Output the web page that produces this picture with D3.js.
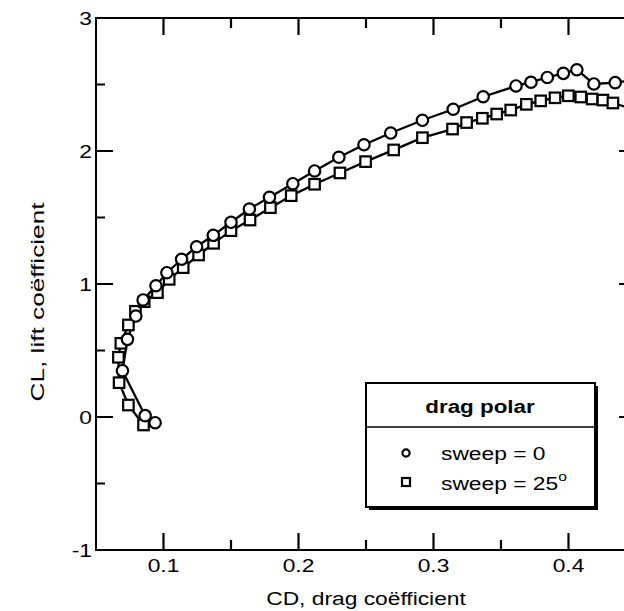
<!DOCTYPE html>
<html>
<head>
<meta charset="utf-8">
<script src="https://cdn.jsdelivr.net/npm/d3@7"></script>
<style>
  body { margin: 0; background: #fff; }
  svg { display: block; }
  text { font-family: "Liberation Sans", Arial, Helvetica, sans-serif; fill: #000; }
</style>
</head>
<body>
<svg id="chart" width="624" height="611"></svg>
<script>
// sweep = 0 (circles)
const cdSweep0 = [0.0938, 0.0864, 0.0696, 0.0733, 0.0795, 0.0849, 0.0944, 0.1025, 0.1134, 0.1245,
  0.1369, 0.1500, 0.1636, 0.1785, 0.1958, 0.2119, 0.2299, 0.2485, 0.2683, 0.2918,
  0.3146, 0.3368, 0.3611, 0.3722, 0.3843, 0.3962, 0.4062, 0.4188, 0.4346, 0.4530];
const clSweep0 = [-0.043, 0.010, 0.348, 0.584, 0.759, 0.880, 0.987, 1.085, 1.186, 1.280,
  1.366, 1.464, 1.564, 1.652, 1.754, 1.850, 1.953, 2.047, 2.135, 2.231,
  2.314, 2.408, 2.489, 2.517, 2.553, 2.584, 2.611, 2.504, 2.514, 2.540];

// sweep = 25 deg (squares)
const cdSweep25 = [0.0852, 0.0740, 0.0671, 0.0666, 0.0684, 0.0740, 0.0792, 0.0857, 0.0955, 0.1042,
  0.1146, 0.1260, 0.1371, 0.1500, 0.1641, 0.1792, 0.1946, 0.2119, 0.2307, 0.2497,
  0.2705, 0.2918, 0.3141, 0.3245, 0.3362, 0.3468, 0.3572, 0.3688, 0.3794, 0.3900,
  0.3999, 0.4091, 0.4175, 0.4255, 0.4329, 0.4460];
const clSweep25 = [-0.060, 0.090, 0.258, 0.449, 0.554, 0.692, 0.795, 0.867, 0.935, 1.035,
  1.123, 1.218, 1.306, 1.401, 1.481, 1.574, 1.664, 1.750, 1.835, 1.920,
  2.008, 2.100, 2.165, 2.214, 2.246, 2.278, 2.308, 2.351, 2.377, 2.400,
  2.415, 2.406, 2.391, 2.383, 2.361, 2.320];

const xMajor = [0.1, 0.2, 0.3, 0.4];
const xMinor = [0.15, 0.25, 0.35];
const yMajor = [-1, 0, 1, 2, 3];
const yMinor = [-0.5, 0.5, 1.5, 2.5];
const xTickLabels = ["0.1", "0.2", "0.3", "0.4"];
const yTickLabels = ["-1", "0", "1", "2", "3"];

const svg = d3.select("#chart");

const plotLeft = 96, plotRight = 636, plotTop = 18, plotBottom = 550;

const x = d3.scaleLinear().domain([0.05, 0.45]).range([plotLeft, plotRight]);
const y = d3.scaleLinear().domain([-1, 3]).range([plotBottom, plotTop]);

svg.append("defs").append("clipPath").attr("id", "plotclip")
    .append("rect")
    .attr("x", plotLeft).attr("y", plotTop)
    .attr("width", plotRight - plotLeft).attr("height", plotBottom - plotTop);

const stretch = 1.2;

// frame
svg.append("rect")
    .attr("x", plotLeft).attr("y", plotTop)
    .attr("width", plotRight - plotLeft).attr("height", plotBottom - plotTop)
    .attr("fill", "none").attr("stroke", "#000").attr("stroke-width", 2);

// inward ticks on all four sides, one path
const tickPath = d3.path();
function xTicks(vals, len) {
    vals.forEach(v => {
        tickPath.moveTo(x(v), plotBottom); tickPath.lineTo(x(v), plotBottom - len);
        tickPath.moveTo(x(v), plotTop); tickPath.lineTo(x(v), plotTop + len);
    });
}
function yTicks(vals, len) {
    vals.forEach(v => {
        tickPath.moveTo(plotLeft, y(v)); tickPath.lineTo(plotLeft + len, y(v));
        tickPath.moveTo(plotRight, y(v)); tickPath.lineTo(plotRight - len, y(v));
    });
}
xTicks(xMajor, 17);
xTicks(xMinor, 10);
yTicks(yMajor, 17);
yTicks(yMinor, 9);
svg.append("path").attr("d", tickPath.toString())
    .attr("fill", "none").attr("stroke", "#000").attr("stroke-width", 2.2);

svg.append("g").selectAll("text").data(xMajor).join("text")
    .attr("transform", d => `translate(${x(d)},572) scale(${stretch},1)`)
    .attr("text-anchor", "middle").attr("font-size", 19)
    .text((d, i) => xTickLabels[i]);

svg.append("g").selectAll("text").data(yMajor).join("text")
    .attr("transform", d => `translate(92,${y(d) + 7}) scale(${stretch},1)`)
    .attr("text-anchor", "end").attr("font-size", 19)
    .text((d, i) => yTickLabels[i]);

// axis titles
svg.append("text")
    .attr("transform", `translate(366,605) scale(${stretch},1)`)
    .attr("text-anchor", "middle").attr("font-size", 19)
    .text("CD, drag coëfficient");

svg.append("text")
    .attr("transform", `translate(44,302) rotate(-90) scale(1.38,1)`)
    .attr("text-anchor", "middle").attr("font-size", 19)
    .text("CL, lift coëfficient");

// data
const plot = svg.append("g").attr("clip-path", "url(#plotclip)");

const line = d3.line().x(d => x(d[0])).y(d => y(d[1]));

const pts0 = cdSweep0.map((d, i) => [d, clSweep0[i]]);
const pts25 = cdSweep25.map((d, i) => [d, clSweep25[i]]);

plot.append("path").datum(pts25).attr("d", line)
    .attr("fill", "none").attr("stroke", "#000").attr("stroke-width", 2.3);
plot.append("path").datum(pts0).attr("d", line)
    .attr("fill", "none").attr("stroke", "#000").attr("stroke-width", 2.3);

const sq = 10.5;
plot.selectAll("rect.sq").data(pts25).join("rect")
    .attr("class", "sq")
    .attr("x", d => x(d[0]) - sq / 2).attr("y", d => y(d[1]) - sq / 2)
    .attr("width", sq).attr("height", sq)
    .attr("fill", "#fff").attr("stroke", "#000").attr("stroke-width", 2.2);

plot.selectAll("circle.c0").data(pts0).join("circle")
    .attr("class", "c0")
    .attr("cx", d => x(d[0])).attr("cy", d => y(d[1])).attr("r", 5.7)
    .attr("fill", "#fff").attr("stroke", "#000").attr("stroke-width", 2.2);

// legend
const lg = svg.append("g");
lg.append("rect").attr("x", 369).attr("y", 386).attr("width", 229).attr("height", 124)
    .attr("fill", "#000");
lg.append("rect").attr("x", 366).attr("y", 383).attr("width", 229).attr("height", 124)
    .attr("fill", "#fff").attr("stroke", "#000").attr("stroke-width", 2);
lg.append("line").attr("x1", 366).attr("x2", 595).attr("y1", 427).attr("y2", 427)
    .attr("stroke", "#000").attr("stroke-width", 1.5);
lg.append("text")
    .attr("transform", `translate(480,413) scale(1.18,1)`)
    .attr("text-anchor", "middle").attr("font-size", 19).attr("font-weight", "bold")
    .text("drag polar");

lg.append("circle").attr("cx", 406).attr("cy", 453).attr("r", 3.6)
    .attr("fill", "#fff").attr("stroke", "#000").attr("stroke-width", 2.2);
lg.append("rect").attr("x", 402).attr("y", 478).attr("width", 8).attr("height", 8)
    .attr("fill", "#fff").attr("stroke", "#000").attr("stroke-width", 2.2);

lg.append("text")
    .attr("transform", `translate(441,460) scale(1.2,1)`)
    .attr("font-size", 19)
    .text("sweep = 0");
const t25 = lg.append("text")
    .attr("transform", `translate(441,490) scale(1.2,1)`)
    .attr("font-size", 19);
t25.append("tspan").text("sweep = 25");
t25.append("tspan").attr("dy", -9).attr("font-size", 13).text("o");
</script>
</body>
</html>
